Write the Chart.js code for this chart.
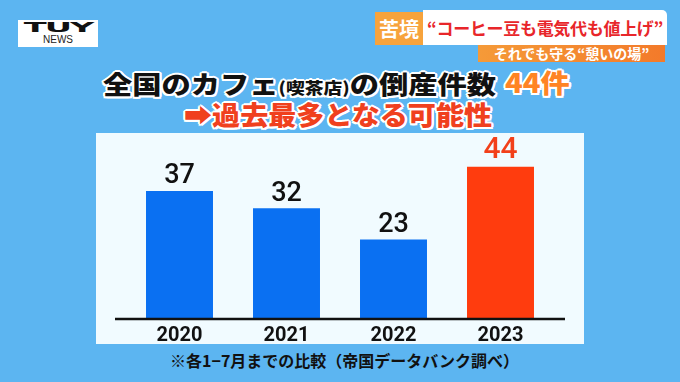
<!DOCTYPE html>
<html>
<head>
<meta charset="utf-8">
<script src="https://cdn.jsdelivr.net/npm/chart.js@4.4.0/dist/chart.umd.min.js"></script>
<style>
  html, body { margin: 0; padding: 0; }
  body { width: 680px; height: 382px; background: #5cb5f1; position: relative; overflow: hidden;
         font-family: "Noto Sans CJK JP", "Noto Sans", sans-serif; }
  .abs { position: absolute; white-space: nowrap; }
  #logo { left: 18px; top: 20px; width: 80px; height: 27px; background: #fff; text-align: center; }
  #logo .t { font-family: "DejaVu Sans", sans-serif; font-weight: 900; font-size: 16px; line-height: 15px;
             letter-spacing: -1px; color: #111; margin-top: 0; transform: scaleX(2.1) scaleY(0.85); }
  #logo .n { font-family: "Liberation Sans", sans-serif; font-size: 10px; line-height: 10px; color: #222; }
  #kukyo { left: 375px; top: 12px; width: 48px; height: 33px; background: #f7a33c; color: #fff;
           font-weight: 700; font-size: 20px; line-height: 33px; text-align: center; }
  #head { left: 423px; top: 10px; width: 244px; height: 35px; background: #fff; border-radius: 0 5px 0 0;
          color: #e8262a; font-weight: 700; font-size: 17px; line-height: 35px; text-align: center; letter-spacing: -0.3px; }
  #sub { left: 478px; top: 45px; width: 187px; height: 17px;
         background: linear-gradient(to right, #f59a38, #f37a2a); color: #fff;
         font-weight: 700; font-size: 14px; line-height: 17px; text-align: center; }
  .outline { text-shadow: 2px 0 #fff, -2px 0 #fff, 0 2px #fff, 0 -2px #fff,
             1.5px 1.5px #fff, -1.5px 1.5px #fff, 1.5px -1.5px #fff, -1.5px -1.5px #fff; }
  #title1 { left: 103px; top: 68px; font-weight: 900; font-size: 25px; line-height: 30px; color: #111;
            transform: scaleX(1.17); transform-origin: left top; }
  #title1 .small { font-size: 16px; }
  #num { left: 505px; top: 67px; font-weight: 900; font-size: 26px; line-height: 30px; color: #ff8424;
         transform: scaleX(1.12); transform-origin: left top; }
  #title2 { left: 184px; top: 99px; font-weight: 900; font-size: 26px; line-height: 30px; color: #f0401e;
            transform: scaleX(1.08); transform-origin: left top; }
  #panel { left: 96px; top: 133px; width: 488px; height: 211px; background: #f1fbff; }
  #note { left: 170px; top: 349px; font-weight: 700; font-size: 16px; line-height: 22px; color: #111; }
  #chart { position: absolute; left: 0; top: 0; }
</style>
</head>
<body>
<div id="logo" class="abs"><div class="t">TUY</div><div class="n">NEWS</div></div>
<div id="kukyo" class="abs">苦境</div>
<div id="head" class="abs">“コーヒー豆も電気代も値上げ”</div>
<div id="sub" class="abs">それでも守る“憩いの場”</div>
<div id="title1" class="abs outline">全国のカフェ<span class="small">(喫茶店)</span>の倒産件数</div>
<div id="num" class="abs outline">44件</div>
<div id="title2" class="abs outline">➡過去最多となる可能性</div>
<div id="panel" class="abs"></div>
<div id="note" class="abs">※各1−7月までの比較（帝国データバンク調べ）</div>
<canvas id="chart" width="680" height="382"></canvas>
<script>
const years = ['2020', '2021', '2022', '2023'];
const counts = [37, 32, 23, 44];
const barColors = ['#0a70f2', '#0a70f2', '#0a70f2', '#ff3c0e'];
const labelColors = ['#111111', '#111111', '#111111', '#f2401a'];
const labelSizes = [27, 27, 27, 30];

const canvas = document.getElementById('chart');
var ctx = canvas.getContext('2d');

// value labels above the bars
const valueLabels = {
  id: 'valueLabels',
  afterDatasetsDraw(chart) {
    const c = chart.ctx;
    const meta = chart.getDatasetMeta(0);
    c.save();
    c.textAlign = 'center';
    c.textBaseline = 'bottom';
    meta.data.forEach((bar, i) => {
      c.fillStyle = labelColors[i];
      c.font = '500 ' + labelSizes[i] + 'px Roboto';
      c.fillText(counts[i], bar.x, bar.y - 1);
    });
    c.restore();
  }
};

// black baseline, a bit wider than the chart area
const baseLine = {
  id: 'baseLine',
  afterDatasetsDraw(chart) {
    const c = chart.ctx;
    const y = chart.scales.y.getPixelForValue(0);
    c.save();
    c.strokeStyle = '#111';
    c.lineWidth = 2.5;
    c.beginPath();
    c.moveTo(chart.chartArea.left - 11, y);
    c.lineTo(chart.chartArea.right + 11, y);
    c.stroke();
    c.restore();
  }
};

const data = {
  labels: years,
  datasets: [{
    data: counts,
    backgroundColor: barColors,
    borderWidth: 0,
    categoryPercentage: 1,
    barPercentage: 0.626
  }]
};

const options = {
  responsive: false,
  animation: false,
  layout: { padding: { left: 126, right: 126, top: 146, bottom: 29 } },
  plugins: { legend: { display: false }, tooltip: { enabled: false } },
  scales: {
    x: {
      grid: { display: false, drawTicks: false },
      border: { display: false },
      ticks: { color: '#111', padding: 5, font: { family: 'Roboto', size: 20, weight: 'bold' } }
    },
    y: {
      display: false,
      min: 0,
      max: 50
    }
  }
};

var myChart = new Chart(ctx, { type: 'bar', data: data, options: options, plugins: [valueLabels, baseLine] });
</script>
</body>
</html>
